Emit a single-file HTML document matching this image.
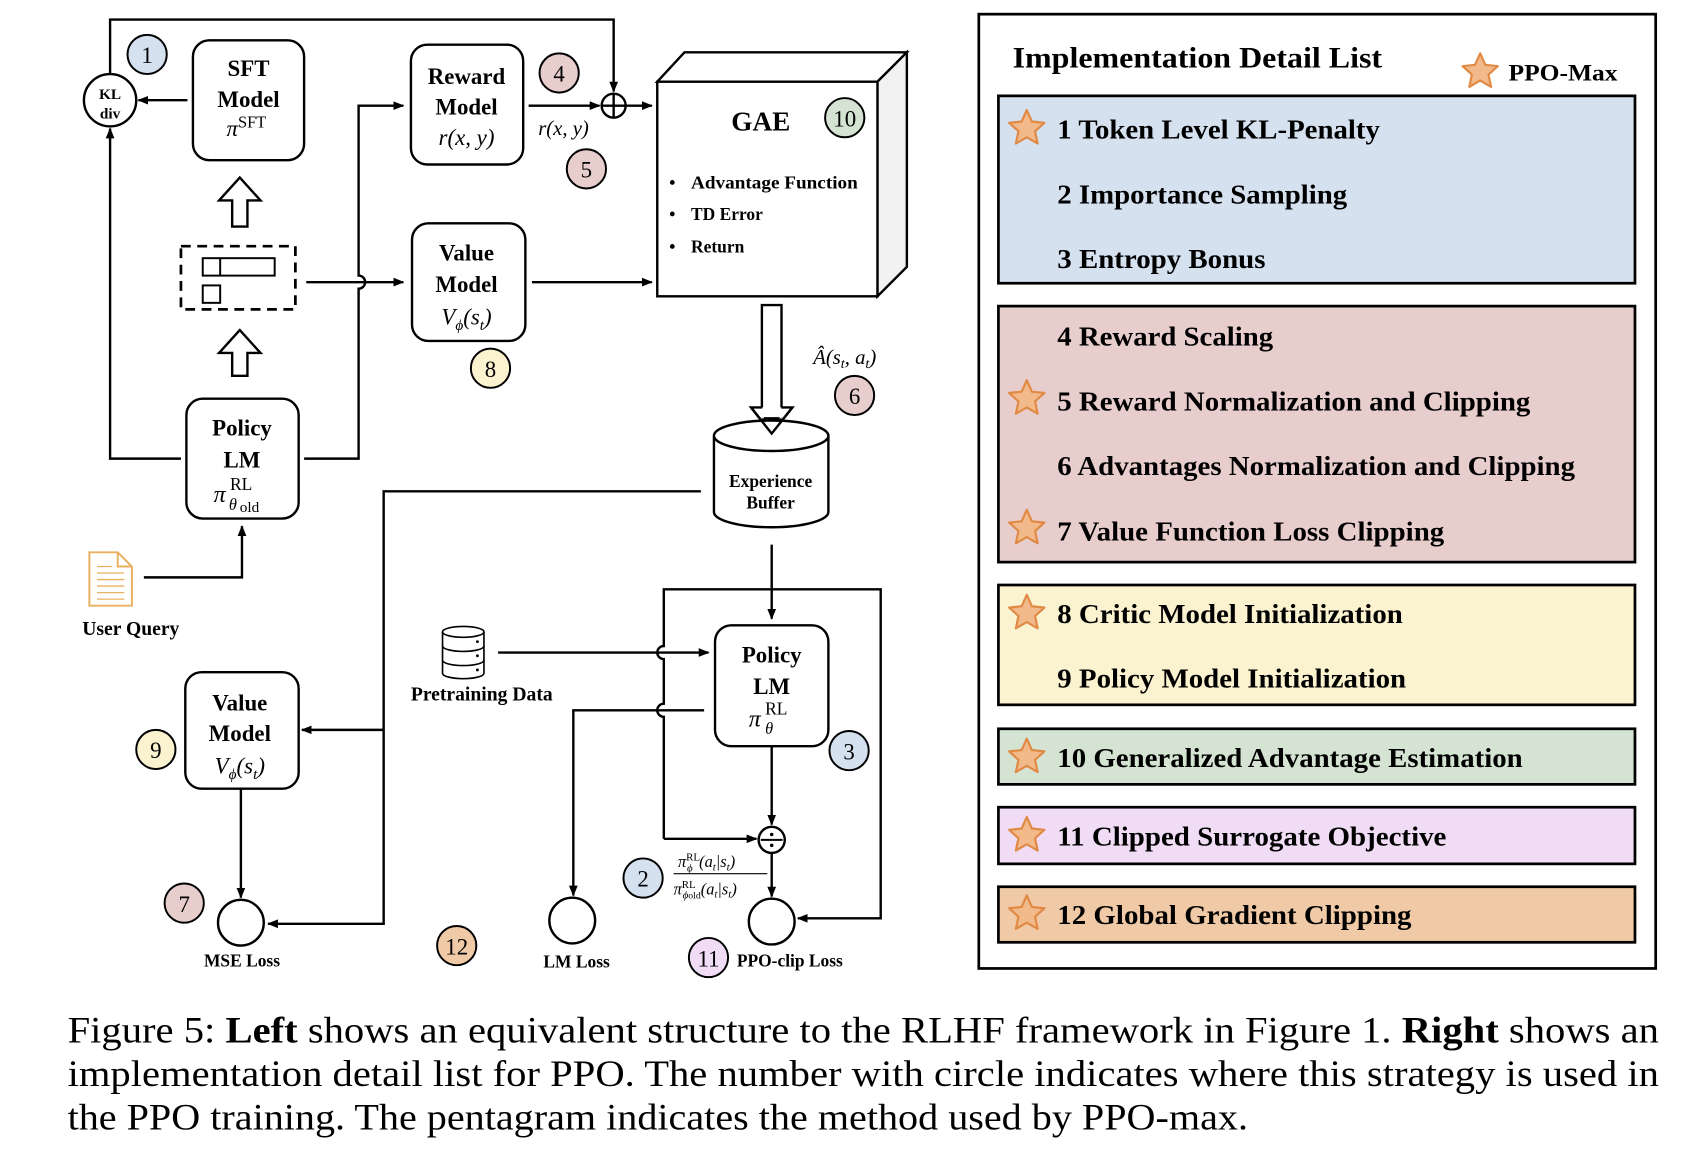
<!DOCTYPE html>
<html><head><meta charset="utf-8"><style>
html,body{margin:0;padding:0;background:#fff;}
svg{display:block;}
text{font-family:"Liberation Serif",serif;}
.b{font-weight:bold;}
</style></head><body>
<svg width="1708" height="1158" viewBox="0 0 1567 1063" preserveAspectRatio="none" xmlns="http://www.w3.org/2000/svg">
<defs>
<marker id="ar" markerWidth="10" markerHeight="10" refX="9" refY="5" orient="auto" markerUnits="userSpaceOnUse"><path d="M0,1 L10,5 L0,9 z" fill="#000"/></marker>
<polygon id="star" points="0,-17 4.7,-6.47 16.17,-5.25 7.61,2.47 9.99,13.75 0,8 -9.99,13.75 -7.61,2.47 -16.17,-5.25 -4.7,-6.47" fill="#f2b98a" stroke="#e08a45" stroke-width="2" stroke-linejoin="round"/>
</defs>
<g fill="none" stroke="#000" stroke-width="2.2">
<path d="M101,68 V18 H563 V84" marker-end="url(#ar)"/>
<circle cx="101" cy="92" r="24" fill="#fff"/>
<circle cx="563" cy="97" r="11"/>
<path d="M552,97 H574 M563,86 V108"/>
<path d="M172,92 H127" marker-end="url(#ar)"/>
<rect x="177" y="37" width="102" height="110" rx="15" fill="#fff"/>
<rect x="377" y="41" width="103" height="110" rx="15" fill="#fff"/>
<path d="M485,97 H550" marker-end="url(#ar)"/>
<path d="M574,97 H598" marker-end="url(#ar)"/>
<polygon points="603,75 628,48 832,48 805,75" fill="#fff"/>
<polygon points="805,75 832,48 832,245 805,272" fill="#f2f2f2"/>
<rect x="603" y="75" width="202" height="197" fill="#fff"/>
<rect x="166" y="226" width="105" height="58" stroke-dasharray="9,6" stroke-width="2.5"/>
<rect x="186" y="237" width="66" height="16" stroke-width="1.8"/>
<path d="M202,237 V253" stroke-width="1.8"/>
<rect x="186" y="262" width="16" height="16" stroke-width="1.8"/>
<path d="M213,208 V184 H201 L220,163 L239,184 H227 V208 Z" fill="#fff"/>
<path d="M213,345 V324 H201 L220,303 L239,324 H227 V345 Z" fill="#fff"/>
<rect x="171" y="366" width="103" height="110" rx="15" fill="#fff"/>
<path d="M166,421 H101 V118" marker-end="url(#ar)"/>
<path d="M279,421 H329 V265 a6,6 0 0 0 0,-12 V97 H370" marker-end="url(#ar)"/>
<path d="M281,259 H370" marker-end="url(#ar)"/>
<rect x="378" y="205" width="104" height="108" rx="15" fill="#fff"/>
<path d="M488,259 H598" marker-end="url(#ar)"/>
<path d="M699,280 H717 V374 H727 L708,398 L689,374 H699 Z" fill="#fff"/>
<path d="M655,400 V470 A52.5,14 0 0 0 760,470 V400" fill="#fff"/>
<ellipse cx="707.5" cy="400" rx="52.5" ry="14" fill="#fff"/>
<path d="M699,384 H717 M689,374 L708,398 L727,374" stroke="#000"/>
<path d="M700,384 V374 M716,384 V374" stroke="#fff" stroke-width="1.5"/>
<path d="M643,451 H352 V848 H246" marker-end="url(#ar)"/>
<path d="M352,670 H277" marker-end="url(#ar)"/>
<path d="M708,500 V568" marker-end="url(#ar)"/>
<rect x="656" y="574" width="104" height="111" rx="15" fill="#fff"/>
<path d="M609,770 V658 a6,6 0 0 1 0,-12 V605 a6,6 0 0 1 0,-12 V541 H808 V843 H732" marker-end="url(#ar)"/>
<path d="M609,770 H694" marker-end="url(#ar)"/>
<path d="M457,599 H650" marker-end="url(#ar)"/>
<path d="M646,652 H526 V822" marker-end="url(#ar)"/>
<circle cx="525" cy="845" r="21" fill="#fff"/>
<path d="M708,685 V757" marker-end="url(#ar)"/>
<circle cx="708" cy="771" r="12" fill="#fff"/>
<path d="M698,771 H718" stroke-width="1.8"/>
<path d="M708,783 V823" marker-end="url(#ar)"/>
<circle cx="708" cy="846" r="21" fill="#fff"/>
<rect x="170" y="617" width="104" height="107" rx="15" fill="#fff"/>
<path d="M221,724 V824" marker-end="url(#ar)"/>
<circle cx="221" cy="847" r="21" fill="#fff"/>
<path d="M132,530 H222 V483" marker-end="url(#ar)"/>
<g stroke-width="1.5">
<path d="M406,580 V618 A19,5 0 0 0 444,618 V580" fill="#fff"/>
<ellipse cx="425" cy="580" rx="19" ry="5" fill="#fff"/>
<path d="M406,593 A19,5 0 0 0 444,593 M406,606 A19,5 0 0 0 444,606"/>
</g>
</g>
<circle cx="708" cy="766" r="1.6"/><circle cx="708" cy="776" r="1.6"/>
<circle cx="438" cy="589" r="1.3"/><circle cx="438" cy="602" r="1.3"/><circle cx="438" cy="615" r="1.3"/>
<g fill="none" stroke="#e9b060" stroke-width="1.8">
<path d="M82,507 H108 L121,520 V556 H82 Z" fill="#fff"/>
<path d="M108,507 V520 H121"/>
<path d="M89,520 H103 M89,526 H114 M89,532 H114 M89,538 H114 M89,544 H114 M89,550 H114" stroke-width="1.2"/>
</g>
<g stroke="#000" stroke-width="1.8">
<circle cx="135" cy="50" r="18" fill="#d5e1ef"/>
<circle cx="513" cy="67" r="18" fill="#e8cdcd"/>
<circle cx="538" cy="155" r="18" fill="#e8cdcd"/>
<circle cx="775" cy="108" r="18" fill="#d5e3d3"/>
<circle cx="450" cy="338" r="18" fill="#fbf2d0"/>
<circle cx="784" cy="363" r="18" fill="#e8cdcd"/>
<circle cx="779" cy="689" r="18" fill="#d5e1ef"/>
<circle cx="143" cy="688" r="18" fill="#fbf2d0"/>
<circle cx="169" cy="829" r="18" fill="#e8cdcd"/>
<circle cx="590" cy="806" r="18" fill="#d5e1ef"/>
<circle cx="419" cy="868" r="18" fill="#f0c9a6"/>
<circle cx="650" cy="879" r="18" fill="#f0dcf5"/>
</g>
<g font-family="'DejaVu Sans',sans-serif" font-size="21" text-anchor="middle">
<text x="135" y="58">1</text><text x="513" y="75">4</text><text x="538" y="163">5</text>
<text x="775" y="116">10</text><text x="450" y="346">8</text><text x="784" y="371">6</text>
<text x="779" y="697">3</text><text x="143" y="696">9</text><text x="169" y="837">7</text>
<text x="590" y="814">2</text><text x="419" y="876">12</text><text x="650" y="887">11</text>
</g>
<g text-anchor="middle" font-weight="bold" font-size="21">
<text x="101" y="91" font-size="14">KL</text><text x="101" y="109" font-size="14">div</text>
<text x="228" y="70">SFT</text><text x="228" y="98">Model</text>
<text x="428" y="77">Reward</text><text x="428" y="105">Model</text>
<text x="698" y="120" font-size="25">GAE</text>
<text x="428" y="239">Value</text><text x="428" y="268">Model</text>
<text x="222" y="400">Policy</text><text x="222" y="429">LM</text>
<text x="708" y="608">Policy</text><text x="708" y="637">LM</text>
<text x="220" y="652">Value</text><text x="220" y="680">Model</text>
<text x="707" y="447" font-size="16">Experience</text><text x="707" y="467" font-size="16">Buffer</text>
<text x="120" y="583" font-size="18">User Query</text>
<text x="442" y="643" font-size="18">Pretraining Data</text>
<text x="222" y="887" font-size="16">MSE Loss</text>
<text x="529" y="888" font-size="16">LM Loss</text>
</g>
<text x="676" y="887" class="b" font-size="16">PPO-clip Loss</text>
<g class="b" font-size="16">
<text x="614" y="173">•</text><text x="634" y="173" textLength="153" lengthAdjust="spacingAndGlyphs">Advantage Function</text>
<text x="614" y="202">•</text><text x="634" y="202">TD Error</text>
<text x="614" y="232">•</text><text x="634" y="232">Return</text>
</g>
<g font-style="italic" font-size="21" text-anchor="middle">
<text x="226" y="125">π<tspan font-style="normal" font-size="15" dy="-8">SFT</tspan></text>
<text x="428" y="133">r(x, y)</text>
<text x="517" y="124" font-size="19">r(x, y)</text>
<text x="428" y="298">V<tspan font-size="14" dy="5">ϕ</tspan><tspan dy="-5">(s</tspan><tspan font-size="14" dy="5">t</tspan><tspan dy="-5">)</tspan></text>
<text x="220" y="710">V<tspan font-size="14" dy="5">ϕ</tspan><tspan dy="-5">(s</tspan><tspan font-size="14" dy="5">t</tspan><tspan dy="-5">)</tspan></text>
<text x="775" y="334" font-size="19">Â(s<tspan font-size="13" dy="4">t</tspan><tspan dy="-4">, a</tspan><tspan font-size="13" dy="4">t</tspan><tspan dy="-4">)</tspan></text>
</g>
<g font-size="22" font-style="italic">
<text x="196" y="461">π</text><text x="211" y="450" font-style="normal" font-size="16">RL</text><text x="210" y="468" font-size="15">θ</text><text x="220" y="470" font-style="normal" font-size="14">old</text>
<text x="687" y="667">π</text><text x="702" y="656" font-style="normal" font-size="16">RL</text><text x="702" y="674" font-size="15">θ</text>
</g>
<g font-size="15" font-style="italic">
<text x="622" y="796">π<tspan font-size="10" dy="-6" font-style="normal">RL</tspan><tspan font-size="10" dx="-12" dy="10">ϕ</tspan><tspan dx="6" dy="-4">(a</tspan><tspan font-size="10" dy="3">t</tspan><tspan dy="-3">|s</tspan><tspan font-size="10" dy="3">t</tspan><tspan dy="-3">)</tspan></text>
<line x1="618" y1="802" x2="704" y2="802" stroke="#000" stroke-width="1"/>
<text x="618" y="821">π<tspan font-size="10" dy="-6" font-style="normal">RL</tspan><tspan font-size="10" dx="-12" dy="10">ϕ</tspan><tspan font-size="9" font-style="normal">old</tspan><tspan dy="-4">(a</tspan><tspan font-size="10" dy="3">t</tspan><tspan dy="-3">|s</tspan><tspan font-size="10" dy="3">t</tspan><tspan dy="-3">)</tspan></text>
</g>
<rect x="898" y="13" width="621" height="876" fill="none" stroke="#000" stroke-width="2.5"/>
<text x="929" y="62" class="b" font-size="27" textLength="339" lengthAdjust="spacingAndGlyphs">Implementation Detail List</text>
<use href="#star" x="1358" y="66"/>
<text x="1384" y="74" class="b" font-size="21" textLength="100" lengthAdjust="spacingAndGlyphs">PPO-Max</text>
<g stroke="#000" stroke-width="2.5">
<rect x="916" y="88" width="584" height="172" fill="#d5e1ef"/>
<rect x="916" y="281" width="584" height="235" fill="#e8cdcd"/>
<rect x="916" y="537" width="584" height="110" fill="#fbf2d0"/>
<rect x="916" y="669" width="584" height="51" fill="#d5e3d3"/>
<rect x="916" y="741" width="584" height="52" fill="#f0dcf5"/>
<rect x="916" y="814" width="584" height="51" fill="#f0c9a6"/>
</g>
<use href="#star" x="942" y="118"/><use href="#star" x="942" y="366"/><use href="#star" x="942" y="485"/>
<use href="#star" x="942" y="563"/><use href="#star" x="942" y="695"/><use href="#star" x="942" y="767"/><use href="#star" x="942" y="839"/>
<g class="b" font-size="25" lengthAdjust="spacingAndGlyphs">
<text x="970" y="127" textLength="296" lengthAdjust="spacingAndGlyphs">1 Token Level KL-Penalty</text>
<text x="970" y="187" textLength="266" lengthAdjust="spacingAndGlyphs">2 Importance Sampling</text>
<text x="970" y="246" textLength="191" lengthAdjust="spacingAndGlyphs">3 Entropy Bonus</text>
<text x="970" y="317" textLength="198" lengthAdjust="spacingAndGlyphs">4 Reward Scaling</text>
<text x="970" y="377" textLength="434" lengthAdjust="spacingAndGlyphs">5 Reward Normalization and Clipping</text>
<text x="970" y="436" textLength="475" lengthAdjust="spacingAndGlyphs">6 Advantages Normalization and Clipping</text>
<text x="970" y="496" textLength="355" lengthAdjust="spacingAndGlyphs">7 Value Function Loss Clipping</text>
<text x="970" y="572" textLength="317" lengthAdjust="spacingAndGlyphs">8 Critic Model Initialization</text>
<text x="970" y="631" textLength="320" lengthAdjust="spacingAndGlyphs">9 Policy Model Initialization</text>
<text x="970" y="704" textLength="427" lengthAdjust="spacingAndGlyphs">10 Generalized Advantage Estimation</text>
<text x="970" y="776" textLength="357" lengthAdjust="spacingAndGlyphs">11 Clipped Surrogate Objective</text>
<text x="970" y="848" textLength="325" lengthAdjust="spacingAndGlyphs">12 Global Gradient Clipping</text>
</g>
<g font-size="34">
<text x="62" y="957" textLength="1460" lengthAdjust="spacingAndGlyphs">Figure 5: <tspan font-weight="bold">Left</tspan> shows an equivalent structure to the RLHF framework in Figure 1. <tspan font-weight="bold">Right</tspan> shows an</text>
<text x="62" y="997" textLength="1460" lengthAdjust="spacingAndGlyphs">implementation detail list for PPO. The number with circle indicates where this strategy is used in</text>
<text x="62" y="1037" textLength="1083" lengthAdjust="spacingAndGlyphs">the PPO training. The pentagram indicates the method used by PPO-max.</text>
</g>
</svg>
</body></html>
